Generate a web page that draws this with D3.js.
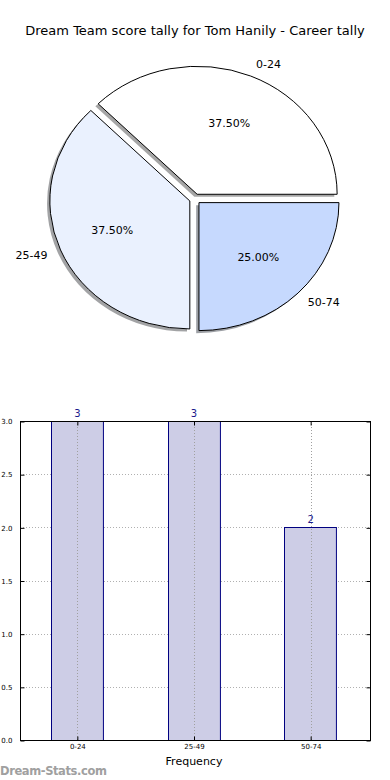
<!DOCTYPE html>
<html>
<head>
<meta charset="utf-8">
<script src="https://cdn.jsdelivr.net/npm/d3@7"></script>
<style>
  body { margin: 0; background: #fff; }
  text { font-family: "DejaVu Sans", sans-serif; }
</style>
</head>
<body>
<script>
// data
var categories = ["0-24", "25-49", "50-74"];
var counts = [3, 3, 2];
var pieColors = ["#ffffff", "#eaf1fe", "#c6d9fe"];
var yTicks = [0, 0.5, 1, 1.5, 2, 2.5, 3];
var chartTitle = "Dream Team score tally for Tom Hanily - Career tally";

const w = 390, h = 780;

const svg = d3.select("body").append("svg")
  .attr("width", w)
  .attr("height", h);

// title
svg.append("text")
  .attr("x", 195)
  .attr("y", 35)
  .attr("text-anchor", "middle")
  .style("font-size", "13px")
  .text(chartTitle);

// ---- pie (elliptical, exploded, with shadow) ----
const cx = 195, cy = 199;
const rx = 140, ry = 128;
const explode = 0.04;
const total = d3.sum(counts);

// counterclockwise from 3 o'clock like matplotlib
const pie = d3.pie().sort(null)
  .startAngle(Math.PI / 2)
  .endAngle(Math.PI / 2 - 2 * Math.PI);
const arcs = pie(counts);
const arc = d3.arc().innerRadius(0).outerRadius(1);

const pieG = svg.append("g");

arcs.forEach(function(a, i) {
  var mid = (a.startAngle + a.endAngle) / 2; // d3 angle, clockwise from top
  var ux = Math.sin(mid), uy = -Math.cos(mid);
  var ox = cx + explode * rx * ux;
  var oy = cy + explode * ry * uy;

  // shadow
  var c = d3.rgb(pieColors[i]);
  pieG.append("path")
    .attr("d", arc(a))
    .attr("transform", "translate(" + (ox - 0.02 * rx) + "," + (oy + 0.02 * ry) + ") scale(" + rx + "," + ry + ")")
    .attr("fill", d3.rgb(c.r * 0.3, c.g * 0.3, c.b * 0.3))
    .attr("fill-opacity", 0.5);

  pieG.append("path")
    .attr("d", arc(a))
    .attr("transform", "translate(" + ox + "," + oy + ") scale(" + rx + "," + ry + ")")
    .attr("fill", pieColors[i])
    .attr("stroke", "#000")
    .attr("stroke-width", 1)
    .attr("vector-effect", "non-scaling-stroke");

  // category label
  var lx = ox + 1.1 * rx * ux, ly = oy + 1.1 * ry * uy;
  pieG.append("text")
    .attr("x", lx)
    .attr("y", ly)
    .attr("dy", "0.35em")
    .attr("text-anchor", ux > 0 ? "start" : "end")
    .style("font-size", "11px")
    .text(categories[i]);

  // percent label
  pieG.append("text")
    .attr("x", ox + 0.6 * rx * ux)
    .attr("y", oy + 0.6 * ry * uy)
    .attr("dy", "0.35em")
    .attr("text-anchor", "middle")
    .style("font-size", "11px")
    .text((counts[i] / total * 100).toFixed(2) + "%");
});

// ---- bar chart ----
const pLeft = 20, pRight = 370, pTop = 421, pBottom = 740;

const xScale = d3.scaleBand()
  .domain(categories)
  .range([pLeft, pRight])
  .paddingInner(0.555)
  .paddingOuter(0.2775);

const yScale = d3.scaleLinear()
  .domain([0, 3])
  .range([pBottom, pTop]);

const grid = svg.append("g")
  .attr("stroke", "#b0b0b0")
  .attr("stroke-width", 1)
  .attr("stroke-dasharray", "1,2");

grid.selectAll(".hgrid")
  .data(yTicks)
  .enter().append("line")
  .attr("x1", pLeft).attr("x2", pRight)
  .attr("y1", d => Math.round(yScale(d)) + 0.5)
  .attr("y2", d => Math.round(yScale(d)) + 0.5);

svg.selectAll(".bar")
  .data(counts)
  .enter().append("rect")
  .attr("class", "bar")
  .attr("x", (d, i) => Math.floor(xScale(categories[i])) - 0.5)
  .attr("y", d => Math.round(yScale(d)) + 0.5)
  .attr("width", xScale.bandwidth())
  .attr("height", d => Math.round(yScale(0)) - Math.round(yScale(d)))
  .attr("fill", "#cdcde6")
  .attr("stroke", "#000080")
  .attr("stroke-width", 1);

const vgrid = svg.append("g")
  .attr("stroke", "#a0a0a0")
  .attr("stroke-width", 1)
  .attr("stroke-dasharray", "1,2");

vgrid.selectAll(".vgrid")
  .data(categories)
  .enter().append("line")
  .attr("y1", pTop).attr("y2", pBottom)
  .attr("x1", d => Math.round(xScale(d) + xScale.bandwidth() / 2) - 0.5)
  .attr("x2", d => Math.round(xScale(d) + xScale.bandwidth() / 2) - 0.5);

// frame
svg.append("rect")
  .attr("x", pLeft + 0.5).attr("y", pTop + 0.5)
  .attr("width", pRight - pLeft).attr("height", pBottom - pTop)
  .attr("fill", "none")
  .attr("stroke", "#000")
  .attr("stroke-width", 1);

const yAxis = d3.axisLeft(yScale)
  .tickValues(yTicks)
  .tickSize(-4)
  .tickPadding(8)
  .tickFormat(d3.format(".1f"));

svg.append("g")
  .attr("transform", "translate(" + (pLeft + 0.5) + ",0.5)")
  .call(yAxis)
  .call(g => g.select(".domain").remove())
  .call(g => g.selectAll("text").style("font-size", "7px").attr("fill", "#000"));

// right side ticks (inward, no labels)
svg.append("g")
  .attr("transform", "translate(" + (pRight + 0.5) + ",0.5)")
  .call(d3.axisRight(yScale).tickValues(yTicks).tickSize(-4).tickFormat(""))
  .call(g => g.select(".domain").remove());

const xAxis = d3.axisBottom(xScale)
  .tickSize(-4)
  .tickPadding(4);

svg.append("g")
  .attr("transform", "translate(-0.5," + (pBottom + 0.5) + ")")
  .call(xAxis)
  .call(g => g.select(".domain").remove())
  .call(g => g.selectAll("text").style("font-size", "7px").attr("fill", "#000"));

// top ticks
svg.append("g")
  .attr("transform", "translate(-0.5," + (pTop + 0.5) + ")")
  .call(d3.axisTop(xScale).tickSize(-4).tickFormat(""))
  .call(g => g.select(".domain").remove());

// value labels
svg.selectAll(".val")
  .data(counts)
  .enter().append("text")
  .attr("x", (d, i) => xScale(categories[i]) + xScale.bandwidth() / 2 - 1)
  .attr("y", d => yScale(d) - 4)
  .attr("text-anchor", "middle")
  .attr("fill", "#1a1a8c")
  .style("font-size", "10px")
  .text(d => d);

svg.append("text")
  .attr("x", 194)
  .attr("y", 765)
  .attr("text-anchor", "middle")
  .style("font-size", "11px")
  .text("Frequency");

svg.append("text")
  .attr("x", 0)
  .attr("y", 775)
  .attr("fill", "#a0a0a0")
  .style("font-size", "11.5px")
  .style("font-weight", "bold")
  .style("letter-spacing", "-0.4px")
  .text("Dream-Stats.com");
</script>
</body>
</html>
